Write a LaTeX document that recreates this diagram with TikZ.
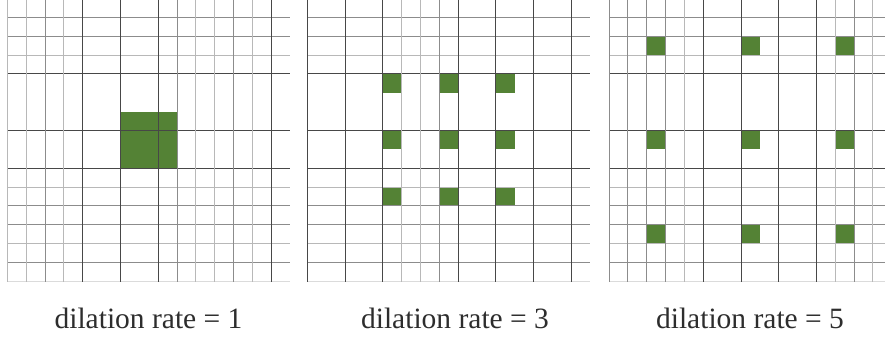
\documentclass[tikz,border=0pt]{standalone}
\usepackage{fontspec}
\setmainfont{Liberation Serif}
\definecolor{kgreen}{RGB}{84,130,53}
\definecolor{txtcol}{RGB}{45,45,45}
\begin{document}
\begin{tikzpicture}[x=1pt,y=-1pt,
  dk/.style={draw=black!72,line width=0.9pt},
  md/.style={draw=black!45,line width=0.9pt},
  lt/.style={draw=black!28,line width=0.9pt},
  ft/.style={draw=black!14,line width=0.8pt},
  cell/.style={fill=kgreen},
  caption/.style={anchor=base,text=txtcol,font=\fontsize{29.5}{35}\selectfont,inner sep=0pt}]
\useasboundingbox (0,0) rectangle (885,337);
\def\s{18.85}
\def\top{-1.5}
\def\bot{281.7}
% ---------- green cells ----------
% panel 1 (left edge 7.3)
\fill[cell] ({7.3+6*\s},{\top+6*\s}) rectangle ({7.3+9*\s},{\top+9*\s});
% panel 2 (left edge 307.3)
\foreach \i in {4,7,10}{\foreach \j in {4,7,10}{
  \fill[cell] ({307.3+\i*\s},{\top+\j*\s}) rectangle ({307.3+(\i+1)*\s},{\top+(\j+1)*\s});}}
% panel 3 (left edge 609)
\foreach \i in {2,7,12}{\foreach \j in {2,7,12}{
  \fill[cell] ({609+\i*\s},{\top+\j*\s}) rectangle ({609+(\i+1)*\s},{\top+(\j+1)*\s});}}
% ---------- horizontal lines (all panels) ----------
\foreach \xo/\xe in {7.3/290, 307.3/590, 609/885}{
  \foreach \j/\st in {1/md,2/md,3/lt,4/dk,7/dk,9/dk,10/lt,11/md,12/md,13/lt,14/md,15/ft}{
    \draw[\st] (\xo,{\top+\j*\s}) -- (\xe,{\top+\j*\s});}}
% ---------- vertical lines ----------
\foreach \k/\st in {0/lt,1/lt,2/md,3/lt,4/dk,6/dk,8/dk,9/md,10/lt,11/lt,12/md,13/lt,14/dk}{
  \draw[\st] ({7.3+\k*\s},0) -- ({7.3+\k*\s},\bot);}
\foreach \k/\st in {0/dk,2/dk,4/dk,5/lt,6/lt,7/md,8/dk,10/dk,12/dk,14/dk}{
  \draw[\st] ({307.3+\k*\s},0) -- ({307.3+\k*\s},\bot);}
\foreach \k/\st in {0/md,1/md,2/md,3/md,4/lt,5/dk,7/dk,9/dk,11/dk,12/lt,13/md,14/lt}{
  \draw[\st] ({609+\k*\s},0) -- ({609+\k*\s},\bot);}
% ---------- captions ----------
\node[caption] (cap1) at (148.5,328) {dilation rate = 1};
\node[caption] (cap2) at (455,328) {dilation rate = 3};
\node[caption] (cap3) at (750,328) {dilation rate = 5};
\end{tikzpicture}
\end{document}
